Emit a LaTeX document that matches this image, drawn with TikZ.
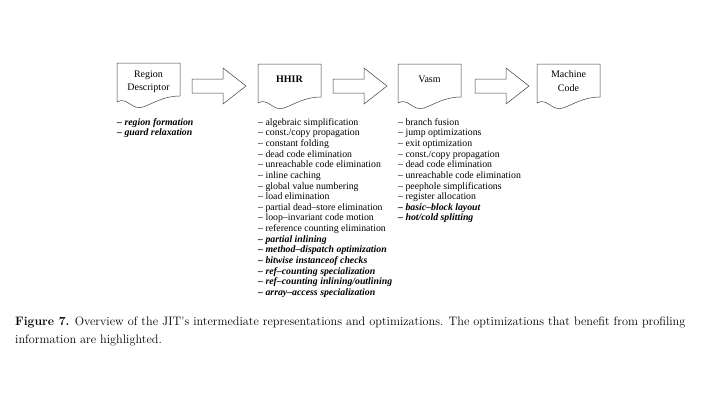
\documentclass[tikz,border=0pt]{standalone}
\usepackage{fontspec}
\setmainfont{Liberation Serif}
\newfontfamily\capfont{Latin Modern Roman}
\newcommand{\docshape}[3]{% name, left x, top y
  \coordinate (#1) at (#2,#3);
  \draw[docline] (#1) -- ++(63,0) -- ++(0,33)
    .. controls +(-16,0) and +(11,-4) .. ++(-37,11)
    .. controls +(-11,4) and +(10,-6) .. ++(-26,-5) -- cycle;
}
\newcommand{\blockarrow}[2]{% name, left x
  \coordinate (#1) at (#2,86);
  \draw[docline] (#1) ++(0,-7) -- ++(31,0) -- ++(0,-11) -- ++(23,18) -- ++(-23,18)
    -- ++(0,-11) -- ++(-31,0) -- cycle;
}
\begin{document}
\begin{tikzpicture}[x=1pt,y=-1pt,
  docline/.style={draw=black!75, line width=0.5pt},
  boxtext/.style={font=\fontsize{10}{13.5}\selectfont, align=center, inner sep=0pt},
  listtext/.style={font=\fontsize{9.8}{10.65}\selectfont, align=left, anchor=north west, inner sep=0pt}]
\useasboundingbox (0,0) rectangle (720,405);
\fill[white] (0,0) rectangle (720,405);

\docshape{rdd}{117}{63}
\docshape{hhd}{258}{64}
\docshape{vad}{398}{64}
\docshape{mcd}{537}{64}

\node[boxtext] (rd) at (148.5,82) {Region\\Descriptor};
\node[boxtext, font=\fontsize{10}{14}\bfseries] (hh) at (289.5,79) {HHIR};
\node[boxtext] (va) at (429.5,79) {Vasm};
\node[boxtext] (mc) at (568.5,81) {Machine\\Code};

\blockarrow{a1}{192}
\blockarrow{a2}{333}
\blockarrow{a3}{475}

\node[listtext] (l1) at (117,118) {\textbf{\textit{– region formation}}\\\textbf{\textit{– guard relaxation}}};

\node[listtext] (l2) at (258,118) {– algebraic simplification\\
– const./copy propagation\\
– constant folding\\
– dead code elimination\\
– unreachable code elimination\\
– inline caching\\
– global value numbering\\
– load elimination\\
– partial dead–store elimination\\
– loop–invariant code motion\\
– reference counting elimination\\
\textbf{\textit{– partial inlining}}\\
\textbf{\textit{– method–dispatch optimization}}\\
\textbf{\textit{– bitwise instanceof checks}}\\
\textbf{\textit{– ref–counting specialization}}\\
\textbf{\textit{– ref–counting inlining/outlining}}\\
\textbf{\textit{– array–access specialization}}};

\node[listtext] (l3) at (398,118) {– branch fusion\\
– jump optimizations\\
– exit optimization\\
– const./copy propagation\\
– dead code elimination\\
– unreachable code elimination\\
– peephole simplifications\\
– register allocation\\
\textbf{\textit{– basic–block layout}}\\
\textbf{\textit{– hot/cold splitting}}};

\node[anchor=north west, inner sep=0pt, align=left, font=\capfont\fontsize{12.25}{18}\selectfont] (cap) at (15,317)
 {\textbf{Figure 7.} Overview of the JIT's intermediate representations and optimizations. The optimizations that benefit from profiling\\
 information are highlighted.};
\end{tikzpicture}
\end{document}
